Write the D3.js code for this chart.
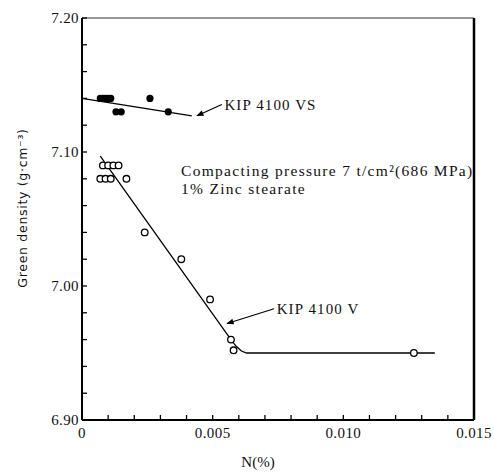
<!DOCTYPE html>
<html><head><meta charset="utf-8">
<script src="https://cdn.jsdelivr.net/npm/d3@7"></script>
<style>
body{margin:0;background:#fff;}
svg text{fill:#111;}
</style></head>
<body><svg id="c" width="494" height="473"></svg>
<script>
// Data (N %, green density g/cm3)
const vsN = [0.0007, 0.0008, 0.0009, 0.0010, 0.0011, 0.0013, 0.0015, 0.0026, 0.0033];
const vsD = [7.14, 7.14, 7.14, 7.14, 7.14, 7.13, 7.13, 7.14, 7.13];
const vsFitN = [0.0, 0.0042];
const vsFitD = [7.14, 7.127];

const vN = [0.0008, 0.0010, 0.0012, 0.0014, 0.0007, 0.0009, 0.0011, 0.0017, 0.0024, 0.0038, 0.0049, 0.0057, 0.0058, 0.0127];
const vD = [7.09, 7.09, 7.09, 7.09, 7.08, 7.08, 7.08, 7.08, 7.04, 7.02, 6.99, 6.96, 6.952, 6.95];
const vFitN = [0.0007, 0.0057, 0.0059, 0.0061, 0.0063, 0.0135];
const vFitD = [7.097, 6.960, 6.955, 6.9515, 6.950, 6.950];

const xTickLabels = [0, 0.005, 0.010, 0.015];
const xTickText = ["0", "0.005", "0.010", "0.015"];
const yTickLabels = [6.90, 7.00, 7.10, 7.20];
const yTickText = ["6.90", "7.00", "7.10", "7.20"];
const xMinor = d3.range(0, 0.0151, 0.001);
const yMinor = d3.range(6.90, 7.201, 0.02);

const svg = d3.select("#c");
const L = 82, R = 474, T = 18, B = 420;
const x = d3.scaleLinear().domain([0, 0.015]).range([L, R]);
const y = d3.scaleLinear().domain([6.90, 7.20]).range([B, T]);
const serif = "'Liberation Serif','DejaVu Serif',serif";

// frame
svg.append("line").attr("x1", L).attr("x2", R).attr("y1", T).attr("y2", T).attr("stroke", "#333").attr("stroke-width", 1.2);
svg.append("line").attr("x1", R).attr("x2", R).attr("y1", T).attr("y2", B).attr("stroke", "#000").attr("stroke-width", 2.5);
svg.append("line").attr("x1", L).attr("x2", L).attr("y1", T).attr("y2", B).attr("stroke", "#000").attr("stroke-width", 2);
svg.append("line").attr("x1", L).attr("x2", R).attr("y1", B).attr("y2", B).attr("stroke", "#000").attr("stroke-width", 2);

// minor ticks (inside)
svg.append("g").selectAll("line").data(xMinor).join("line")
  .attr("x1", d => x(d)).attr("x2", d => x(d)).attr("y1", B).attr("y2", B - 5)
  .attr("stroke", "#000").attr("stroke-width", 1.3);
svg.append("g").selectAll("line").data(yMinor).join("line")
  .attr("x1", L).attr("x2", L + 5).attr("y1", d => y(d)).attr("y2", d => y(d))
  .attr("stroke", "#000").attr("stroke-width", 1.3);

// tick labels
svg.append("g").selectAll("text").data(xTickLabels).join("text")
  .attr("x", d => x(d)).attr("y", 438).attr("text-anchor", "middle")
  .attr("font-family", serif).attr("font-size", 15).attr("letter-spacing", 0.4)
  .text((d, i) => xTickText[i]);
svg.append("g").selectAll("text").data(yTickLabels).join("text")
  .attr("x", L - 3).attr("y", d => y(d) + 5).attr("text-anchor", "end")
  .attr("font-family", serif).attr("font-size", 15).attr("letter-spacing", 0.4)
  .text((d, i) => yTickText[i]);

// axis titles
svg.append("text").attr("x", 258).attr("y", 467).attr("text-anchor", "middle")
  .attr("font-family", serif).attr("font-size", 15).text("N(%)");
svg.append("text").attr("transform", "translate(27,208) rotate(-90)").attr("text-anchor", "middle")
  .attr("font-family", "'DejaVu Sans',sans-serif").attr("font-size", 12.5).attr("letter-spacing", 0.7)
  .text("Green density (g·cm⁻³)");

// fit lines
const line = d3.line().x(d => x(d[0])).y(d => y(d[1]));
svg.append("path").attr("d", line(vsFitN.map((n, i) => [n, vsFitD[i]])))
  .attr("fill", "none").attr("stroke", "#000").attr("stroke-width", 1.3);
svg.append("path").attr("d", line(vFitN.map((n, i) => [n, vFitD[i]])))
  .attr("fill", "none").attr("stroke", "#000").attr("stroke-width", 1.3);

// points
svg.append("g").selectAll("circle").data(vsN.map((n, i) => [n, vsD[i]])).join("circle")
  .attr("cx", d => x(d[0])).attr("cy", d => y(d[1])).attr("r", 3.6).attr("fill", "#000");
svg.append("g").selectAll("circle").data(vN.map((n, i) => [n, vD[i]])).join("circle")
  .attr("cx", d => x(d[0])).attr("cy", d => y(d[1])).attr("r", 3.3)
  .attr("fill", "#fff").attr("stroke", "#000").attr("stroke-width", 1.3);

// arrows & labels
svg.append("defs").append("marker").attr("id", "ah").attr("viewBox", "0 0 10 10")
  .attr("refX", 9).attr("refY", 5).attr("markerWidth", 8).attr("markerHeight", 6).attr("orient", "auto")
  .append("path").attr("d", "M0,1 L10,5 L0,9 Z").attr("fill", "#000");
function arrow(n0, d0, n1, d1) {
  svg.append("line").attr("x1", x(n0)).attr("y1", y(d0)).attr("x2", x(n1)).attr("y2", y(d1))
    .attr("stroke", "#000").attr("stroke-width", 1.2).attr("marker-end", "url(#ah)");
}
arrow(0.00535, 7.1355, 0.0044, 7.127);
arrow(0.00735, 6.983, 0.00555, 6.972);
svg.append("text").attr("x", x(0.00545)).attr("y", 110).attr("font-family", serif).attr("font-size", 15)
  .attr("letter-spacing", 1.1).text("KIP 4100 VS");
svg.append("text").attr("x", x(0.00745)).attr("y", 314).attr("font-family", serif).attr("font-size", 15)
  .attr("letter-spacing", 1.1).text("KIP 4100 V");
svg.append("text").attr("x", 181).attr("y", 176).attr("font-family", serif).attr("font-size", 15.5)
  .attr("letter-spacing", 1.3).text("Compacting pressure 7 t/cm²(686 MPa)");
svg.append("text").attr("x", 181).attr("y", 194).attr("font-family", serif).attr("font-size", 15.5)
  .attr("letter-spacing", 1.3).text("1% Zinc stearate");
</script></body></html>
